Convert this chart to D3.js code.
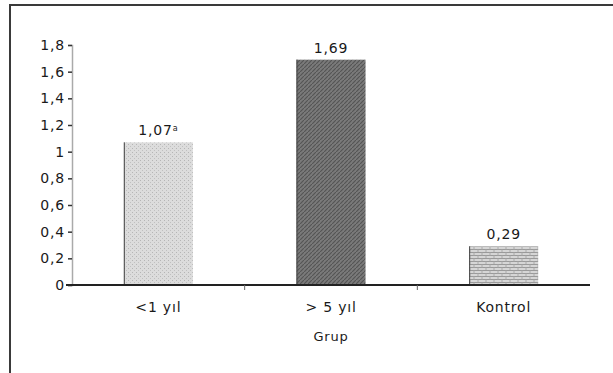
<!DOCTYPE html>
<html>
<head>
<meta charset="utf-8">
<script src="https://cdn.jsdelivr.net/npm/d3@7"></script>
<style>
  body { margin: 0; background: #fff; }
  text { font-family: "DejaVu Sans", sans-serif; fill: #1a1a1a; letter-spacing: 0.8px; }
</style>
</head>
<body>
<div id="chart"></div>
<script>
const groups = ['<1 yıl', '> 5 yıl', 'Kontrol'];
const values = [1.07, 1.69, 0.29];
const valueLabels = ['1,07', '1,69', '0,29'];
const valueSup = ['a', '', ''];
const yTicks = [0, 0.2, 0.4, 0.6, 0.8, 1, 1.2, 1.4, 1.6, 1.8];

const width = 613, height = 373;

const svg = d3.select('#chart').append('svg')
  .attr('width', width)
  .attr('height', height);

// fill patterns
const defs = svg.append('defs');
const p1 = defs.append('pattern').attr('id', 'pat0')
  .attr('patternUnits', 'userSpaceOnUse').attr('width', 4).attr('height', 4);
p1.append('rect').attr('width', 4).attr('height', 4).attr('fill', '#dcdcdc');
p1.append('rect').attr('x', 0).attr('y', 0).attr('width', 1).attr('height', 1).attr('fill', '#b5b5b5');
p1.append('rect').attr('x', 2).attr('y', 2).attr('width', 1).attr('height', 1).attr('fill', '#c0c0c0');

const p2 = defs.append('pattern').attr('id', 'pat1')
  .attr('patternUnits', 'userSpaceOnUse').attr('width', 4).attr('height', 4);
p2.append('rect').attr('width', 4).attr('height', 4).attr('fill', '#7a7a7a');
p2.append('path').attr('d', 'M0,4 L4,0').attr('stroke', '#555').attr('stroke-width', 1.2);

const p3 = defs.append('pattern').attr('id', 'pat2')
  .attr('patternUnits', 'userSpaceOnUse').attr('width', 8).attr('height', 6);
p3.append('rect').attr('width', 8).attr('height', 6).attr('fill', '#d6d6d6');
p3.append('path').attr('d', 'M0,0.5 H8 M0,3.5 H8').attr('stroke', '#9a9a9a').attr('stroke-width', 1);
p3.append('path').attr('d', 'M2,0.5 V3.5 M6,3.5 V6').attr('stroke', '#aaa').attr('stroke-width', 1);

// outer frame (open to the right and bottom)
svg.append('path')
  .attr('d', 'M10,400 V5 H620')
  .attr('fill', 'none').attr('stroke', '#3a3a3a').attr('stroke-width', 2);

const x = d3.scaleBand()
  .domain(groups)
  .range([72, 590])
  .paddingInner(0.6)
  .paddingOuter(0.3);

const y = d3.scaleLinear()
  .domain([0, 1.8])
  .range([285, 45]);

// y axis
const yAxis = svg.append('g')
  .attr('transform', 'translate(72,0)')
  .call(d3.axisLeft(y).tickValues(yTicks).tickSize(4).tickPadding(3)
    .tickFormat(d => d3.format('~g')(d).replace('.', ',')));
yAxis.select('.domain').attr('stroke', '#aaa').attr('stroke-width', 1.5);
yAxis.selectAll('.tick line').attr('stroke', '#333').attr('stroke-width', 1.5);
yAxis.selectAll('.tick text').style('font-size', '14px').attr('fill', '#1a1a1a');

// bars
svg.append('g').selectAll('rect')
  .data(values)
  .join('rect')
  .attr('x', (d, i) => x(groups[i]))
  .attr('y', d => y(d))
  .attr('width', x.bandwidth())
  .attr('height', d => y(0) - y(d))
  .attr('fill', (d, i) => 'url(#pat' + i + ')');

svg.append('g').selectAll('line')
  .data(values)
  .join('line')
  .attr('x1', (d, i) => x(groups[i]) + 0.5)
  .attr('x2', (d, i) => x(groups[i]) + 0.5)
  .attr('y1', d => y(d))
  .attr('y2', y(0))
  .attr('stroke', '#444');

// value labels
const vl = svg.append('g').selectAll('text')
  .data(values)
  .join('text')
  .attr('x', (d, i) => x(groups[i]) + x.bandwidth() / 2)
  .attr('y', d => y(d) - 7)
  .attr('text-anchor', 'middle')
  .style('font-size', '14px');
vl.append('tspan').text((d, i) => valueLabels[i]);
vl.append('tspan')
  .attr('dy', -4)
  .style('font-size', '8px')
  .text((d, i) => valueSup[i]);

// x axis
const xAxis = svg.append('g')
  .attr('transform', 'translate(0,285)')
  .call(d3.axisBottom(x).tickSize(0).tickPadding(17));
xAxis.select('.domain').attr('stroke', '#222').attr('stroke-width', 2)
  .attr('d', 'M66,0H590');
xAxis.selectAll('.tick text').style('font-size', '14px').attr('fill', '#1a1a1a');

// separator ticks between groups
svg.append('g').selectAll('line')
  .data(groups.slice(1))
  .join('line')
  .attr('x1', d => x(d) - x.step() * x.paddingInner() / 2)
  .attr('x2', d => x(d) - x.step() * x.paddingInner() / 2)
  .attr('y1', 285)
  .attr('y2', 290)
  .attr('stroke', '#666');

svg.append('text')
  .attr('x', (x.range()[0] + x.range()[1]) / 2)
  .attr('y', 341)
  .attr('text-anchor', 'middle')
  .style('font-size', '13px')
  .text('Grup');
</script>
</body>
</html>
